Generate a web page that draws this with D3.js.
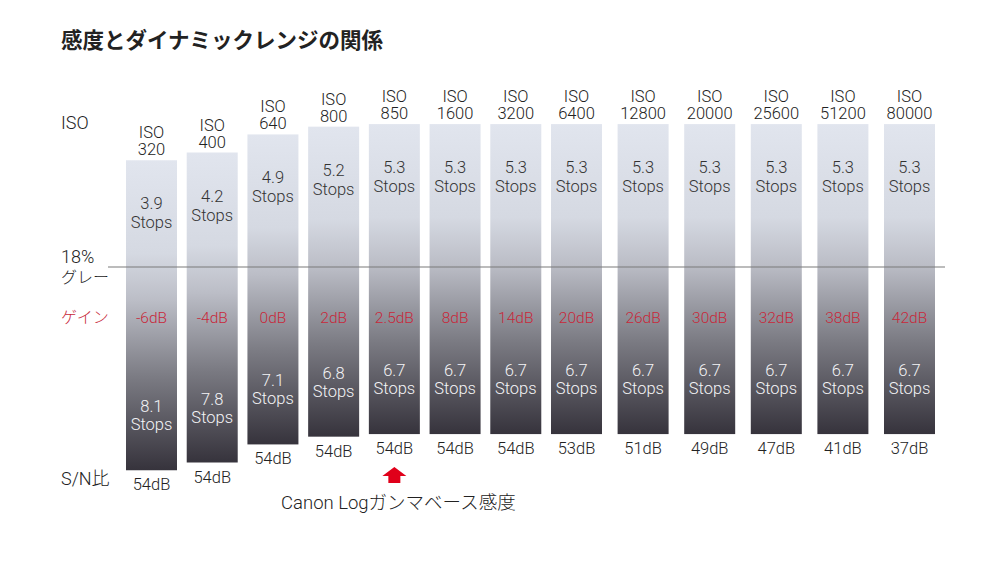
<!DOCTYPE html>
<html>
<head>
<meta charset="utf-8">
<script src="https://cdn.jsdelivr.net/npm/d3@7"></script>
<style>
	body { margin: 0; background: #fff; }
	text { font-family: Roboto, "Noto Sans CJK JP", sans-serif; font-weight: 300; }
	.jp { font-family: "Noto Sans CJK JP", sans-serif; font-weight: 300; }
</style>
</head>
<body>
<svg id="chart" width="988" height="567"></svg>
<script>
// data
var isoValues = ["320", "400", "640", "800", "850", "1600", "3200", "6400", "12800", "20000", "25600", "51200", "80000"];
var stopsAbove = [3.9, 4.2, 4.9, 5.2, 5.3, 5.3, 5.3, 5.3, 5.3, 5.3, 5.3, 5.3, 5.3];
var stopsBelow = [8.1, 7.8, 7.1, 6.8, 6.7, 6.7, 6.7, 6.7, 6.7, 6.7, 6.7, 6.7, 6.7];
var gainLabels = ["-6dB", "-4dB", "0dB", "2dB", "2.5dB", "8dB", "14dB", "20dB", "26dB", "30dB", "32dB", "38dB", "42dB"];
var snLabels = ["54dB", "54dB", "54dB", "54dB", "54dB", "54dB", "54dB", "53dB", "51dB", "49dB", "47dB", "41dB", "37dB"];
var baseIndex = 4; // ISO 850 = Canon Log base

var data = isoValues.map(function (iso, i) {
	return { iso: iso, above: stopsAbove[i], below: stopsBelow[i], gain: gainLabels[i], sn: snLabels[i], i: i };
});

var svg = d3.select("#chart");
var barWidth = 51;

// bars get a bit wider spacing after ISO 6400
var x = d3.scaleLinear().domain([0, 7, 12]).range([126, 551, 884]);
// stops relative to 18% gray
var y = d3.scaleLinear().domain([-6, 6]).range([416, 106]);

var grad = svg.append("defs").append("linearGradient")
	.attr("id", "barGrad")
	.attr("x1", 0).attr("y1", 0).attr("x2", 0).attr("y2", 1);
grad.append("stop").attr("offset", "0%").attr("stop-color", "#e1e5ee");
grad.append("stop").attr("offset", "30%").attr("stop-color", "#d5d9e2");
grad.append("stop").attr("offset", "45%").attr("stop-color", "#bcbec7");
grad.append("stop").attr("offset", "70%").attr("stop-color", "#7b7b83");
grad.append("stop").attr("offset", "100%").attr("stop-color", "#36333c");

// title
svg.append("text")
	.attr("class", "jp")
	.attr("x", 61).attr("y", 48)
	.attr("font-size", 21.5)
	.style("font-weight", "bold")
	.attr("fill", "#222")
	.text("感度とダイナミックレンジの関係");

// bars
svg.selectAll(".bar")
	.data(data)
	.enter()
	.append("rect")
	.attr("class", "bar")
	.attr("x", function (d) { return x(d.i); })
	.attr("y", function (d) { return y(d.above); })
	.attr("width", barWidth)
	.attr("height", function (d) { return y(-d.below) - y(d.above); })
	.attr("fill", "url(#barGrad)");

// 18% gray line
svg.append("line")
	.attr("x1", 108).attr("x2", 945)
	.attr("y1", 267).attr("y2", 267)
	.attr("stroke", "#7a7a7a")
	.attr("stroke-width", 1.2);

var cx = function (d) { return x(d.i) + barWidth / 2; };

// ISO labels above each bar
var isoG = svg.selectAll(".iso")
	.data(data)
	.enter()
	.append("text")
	.attr("class", "iso")
	.attr("text-anchor", "middle")
	.attr("font-size", 16.5)
	.attr("fill", "#222");
isoG.append("tspan")
	.attr("x", cx)
	.attr("y", function (d) { return y(d.above) - 22; })
	.text("ISO");
isoG.append("tspan")
	.attr("x", cx)
	.attr("y", function (d) { return y(d.above) - 5; })
	.text(function (d) { return d.iso; });

// stops above gray
var upG = svg.selectAll(".up")
	.data(data)
	.enter()
	.append("text")
	.attr("class", "up")
	.attr("text-anchor", "middle")
	.attr("font-size", 16.5)
	.attr("fill", "#333");
upG.append("tspan")
	.attr("x", cx)
	.attr("y", function (d) { return y(d.above) + 49; })
	.text(function (d) { return d.above.toFixed(1); });
upG.append("tspan")
	.attr("x", cx)
	.attr("y", function (d) { return y(d.above) + 68; })
	.text("Stops");

// stops below gray
var downG = svg.selectAll(".down")
	.data(data)
	.enter()
	.append("text")
	.attr("class", "down")
	.attr("text-anchor", "middle")
	.attr("font-size", 16.5)
	.attr("fill", "#f4f4f6");
downG.append("tspan")
	.attr("x", cx)
	.attr("y", function (d) { return y(-d.below) - 58; })
	.text(function (d) { return d.below.toFixed(1); });
downG.append("tspan")
	.attr("x", cx)
	.attr("y", function (d) { return y(-d.below) - 40; })
	.text("Stops");

// gain row
svg.selectAll(".gain")
	.data(data)
	.enter()
	.append("text")
	.attr("class", "gain")
	.attr("text-anchor", "middle")
	.attr("x", cx)
	.attr("y", 323)
	.attr("font-size", 15.5)
	.attr("fill", "#c8283a")
	.text(function (d) { return d.gain; });

// S/N row
svg.selectAll(".sn")
	.data(data)
	.enter()
	.append("text")
	.attr("class", "sn")
	.attr("text-anchor", "middle")
	.attr("x", cx)
	.attr("y", function (d) { return y(-d.below) + 20; })
	.attr("font-size", 16.5)
	.attr("fill", "#222")
	.text(function (d) { return d.sn; });

// left labels
svg.append("text").attr("x", 61).attr("y", 129)
	.attr("font-size", 18).attr("fill", "#222").text("ISO");
svg.append("text").attr("x", 61).attr("y", 263)
	.attr("font-size", 18).attr("fill", "#222").text("18%");
svg.append("text").attr("class", "jp").attr("x", 61).attr("y", 283)
	.attr("font-size", 16).attr("fill", "#222").text("グレー");
svg.append("text").attr("class", "jp").attr("x", 61).attr("y", 323)
	.attr("font-size", 16).attr("fill", "#c8283a").text("ゲイン");
svg.append("text").attr("x", 61).attr("y", 485)
	.attr("font-size", 18).attr("fill", "#222").text("S/N比");

// base sensitivity arrow
var ax = x(baseIndex) + barWidth / 2;
svg.append("path")
	.attr("d", "M" + ax + ",467 L" + (ax + 12) + ",476 L" + (ax + 6) + ",476 L" + (ax + 6) + ",483 L" + (ax - 6) + ",483 L" + (ax - 6) + ",476 L" + (ax - 12) + ",476 Z")
	.attr("fill", "#e0001a");
svg.append("text")
	.attr("x", ax + 4).attr("y", 509)
	.attr("text-anchor", "middle")
	.attr("font-size", 18.5).attr("fill", "#222")
	.text("Canon Logガンマベース感度");
</script>
</body>
</html>
